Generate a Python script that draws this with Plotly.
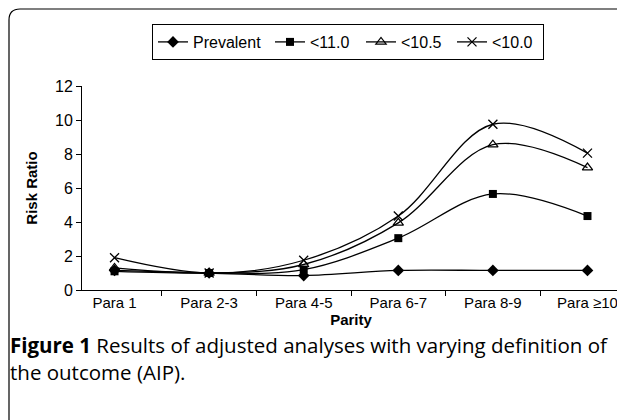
import plotly.graph_objects as go

categories = ["Para 1", "Para 2-3", "Para 4-5", "Para 6-7", "Para 8-9", "Para ≥10"]
prevalent = [1.15, 1.0, 0.85, 1.15, 1.15, 1.15]
lt_11_0 = [1.1, 1.0, 1.2, 3.05, 5.65, 4.35]
lt_10_5 = [1.3, 1.0, 1.5, 3.95, 8.55, 7.2]
lt_10_0 = [1.9, 1.0, 1.75, 4.35, 9.75, 8.05]

# the page body has an 8px margin, so work in reference pixels shifted by 8
OFF = 8
W, H = 625 - OFF, 420 - OFF
L, R, T, B = 82 - OFF, 5, 86 - OFF, 130
PW = W - L - R
PH = H - T - B


def px(x):
    return (x - OFF - L) / PW


def py(y):
    return (H - B - (y - OFF)) / PH


fig = go.Figure()
series = [
    ("Prevalent", prevalent, dict(symbol="diamond", size=9, color="black"), 72),
    ("<11.0", lt_11_0, dict(symbol="square", size=8, color="black"), 46),
    ("<10.5", lt_10_5, dict(symbol="triangle-up-open", size=9, color="black", line=dict(width=1.2, color="black")), 46),
    ("<10.0", lt_10_0, dict(symbol="x-thin-open", size=9, color="black", line=dict(width=1.3, color="black")), 46),
]
for name, vals, mk, lw in series:
    fig.add_trace(go.Scatter(
        x=categories, y=vals, name=name, mode="lines+markers",
        line=dict(color="black", width=1.3, shape="spline", smoothing=1.0),
        marker=mk, legendwidth=lw,
    ))

# frame with rounded top-left corner
x0, y0, x1, yb = px(9), py(9), px(622), py(425)
xc, yc = px(20), py(20)
fig.add_shape(type="path", xref="paper", yref="paper",
              path=f"M {x0},{yb} L {x0},{yc} Q {x0},{y0} {xc},{y0} L {x1},{y0}",
              line=dict(color="black", width=1.2))

fig.add_annotation(
    xref="paper", yref="paper", x=px(8), y=py(329), xanchor="left", yanchor="top",
    align="left", showarrow=False,
    text="<b>Figure 1</b> Results of adjusted analyses with varying definition of<br>the outcome (AIP).",
    font=dict(family="Open Sans", size=20.5, color="black"),
)

fig.update_layout(
    width=W, height=H,
    margin=dict(l=L, r=R, t=T, b=B, autoexpand=False),
    paper_bgcolor="white", plot_bgcolor="white",
    font=dict(family="Liberation Sans, Arial", size=15, color="black"),
    showlegend=True,
    legend=dict(orientation="h", x=px(152), y=py(24), xanchor="left", yanchor="top",
                bordercolor="black", borderwidth=1, bgcolor="white",
                font=dict(size=16, family="Liberation Sans, Arial", color="black"),
                itemwidth=30, tracegroupgap=0),
    xaxis=dict(showline=True, linecolor="black", linewidth=1, ticks="outside", ticklen=5,
               tickcolor="black", tickson="boundaries", showgrid=False, zeroline=False,
               ticklabelstandoff=-1,
               title=dict(text="<b>Parity</b>", font=dict(size=15), standoff=3),
               tickfont=dict(size=15)),
    yaxis=dict(range=[0, 12], dtick=2, showline=True, linecolor="black", linewidth=1,
               ticks="outside", ticklen=5, tickcolor="black", showgrid=False, zeroline=False,
               title=dict(text="<b>Risk Ratio</b>", font=dict(size=15), standoff=13),
               tickfont=dict(size=16)),
)

fig.write_html("out.html")
